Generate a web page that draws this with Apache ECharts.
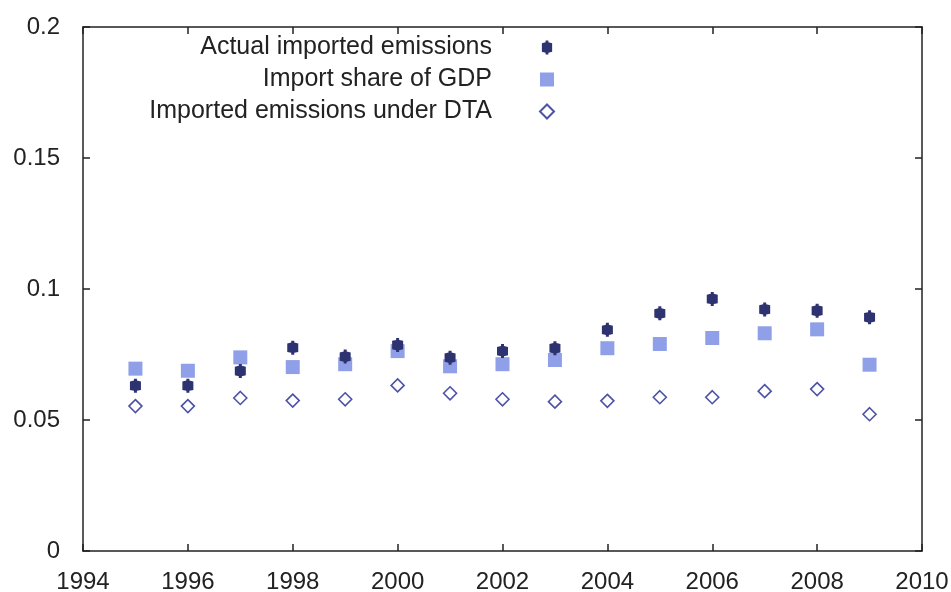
<!DOCTYPE html>
<html>
<head>
<meta charset="utf-8">
<script src="https://cdn.jsdelivr.net/npm/echarts@6/dist/echarts.min.js"></script>
<style>
  html, body { margin: 0; padding: 0; background: #fff; }
  #chart { width: 951px; height: 592px; }
</style>
</head>
<body>
<div id="chart"></div>
<script>
// Years on the horizontal axis
const years = [1995, 1996, 1997, 1998, 1999, 2000, 2001, 2002, 2003, 2004, 2005, 2006, 2007, 2008, 2009];

// Series values
const actualImported = [0.0631, 0.0631, 0.0687, 0.0776, 0.0742, 0.0786, 0.0738, 0.0763, 0.0774, 0.0844, 0.0907, 0.0962, 0.0922, 0.0917, 0.0892];
const importShareGdp = [0.0696, 0.0688, 0.0739, 0.0702, 0.0713, 0.0763, 0.0705, 0.0713, 0.0729, 0.0774, 0.0790, 0.0813, 0.0831, 0.0846, 0.0711];
const underDta = [0.0553, 0.0553, 0.0584, 0.0574, 0.0579, 0.0632, 0.0602, 0.0579, 0.0570, 0.0573, 0.0587, 0.0587, 0.0610, 0.0618, 0.0522];

// Series names
const seriesNames = ['Actual imported emissions', 'Import share of GDP', 'Imported emissions under DTA'];

// Axis ranges
const xMin = 1994, xMax = 2010, xStep = 2;
const yMin = 0, yMax = 0.2, yStep = 0.05;

const pair = (vals) => years.map((y, i) => [y, vals[i]]);

const font = '"Liberation Sans", Arial, sans-serif';
const axisColor = '#222';

// Small navy marker with caps top and bottom
const capMarker = 'path://M4,0 L7,0 L7,2 L11,3 L11,12 L7,13 L7,15 L4,15 L4,13 L0,12 L0,3 L4,2 Z';

const chart = echarts.init(document.getElementById('chart'));

const boxAxis = {
  axisLine: { show: true, onZero: false, lineStyle: { color: axisColor, width: 1.5 } },
  axisTick: { show: true, inside: true, length: 7, lineStyle: { color: axisColor, width: 1.5 } },
  splitLine: { show: false }
};

chart.setOption({
  backgroundColor: '#fff',
  animation: false,
  grid: { left: 83, right: 29, top: 27, bottom: 41, containLabel: false, outerBoundsMode: 'none' },
  legend: {
    orient: 'vertical',
    right: 391,
    top: 30,
    align: 'right',
    itemWidth: 14,
    itemHeight: 14,
    itemGap: 7,
    selectedMode: false,
    textStyle: { fontFamily: font, fontSize: 25, color: '#222', padding: [0, 43, 0, 0] },
    data: seriesNames
  },
  xAxis: [
    Object.assign({
      type: 'value', position: 'bottom', min: xMin, max: xMax, interval: xStep,
      axisLabel: { fontFamily: font, fontSize: 24, color: '#222', margin: 19, formatter: (v) => String(v) }
    }, boxAxis),
    Object.assign({
      type: 'value', position: 'top', min: xMin, max: xMax, interval: xStep,
      axisLabel: { show: false }
    }, boxAxis)
  ],
  yAxis: [
    Object.assign({
      type: 'value', position: 'left', min: yMin, max: yMax, interval: yStep,
      axisLabel: { fontFamily: font, fontSize: 24, color: '#222', margin: 23 }
    }, boxAxis),
    Object.assign({
      type: 'value', position: 'right', min: yMin, max: yMax, interval: yStep,
      axisLabel: { show: false }
    }, boxAxis)
  ],
  series: [
    {
      name: seriesNames[0], type: 'scatter', data: pair(actualImported), z: 3,
      symbol: capMarker, symbolSize: [11, 14], symbolKeepAspect: false,
      itemStyle: { color: '#2d3270', opacity: 1 }
    },
    {
      name: seriesNames[1], type: 'scatter', data: pair(importShareGdp), z: 2,
      symbol: 'rect', symbolSize: 14,
      itemStyle: { color: '#8fa0e8', opacity: 1 }
    },
    {
      name: seriesNames[2], type: 'scatter', data: pair(underDta), z: 2,
      symbol: 'diamond', symbolSize: 13,
      itemStyle: { color: '#fff', borderColor: '#4d52a6', borderWidth: 1.6, opacity: 1 }
    }
  ]
});
</script>
</body>
</html>
